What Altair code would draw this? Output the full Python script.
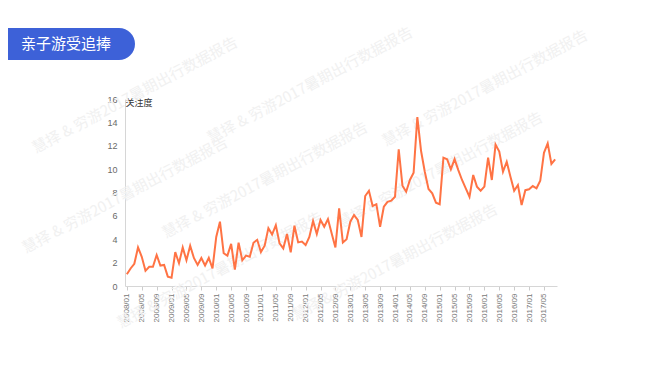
import altair as alt
import pandas as pd

years = list(range(2008, 2018))
values = [1.0, 1.5, 1.9, 3.3, 2.5, 1.3, 1.65, 1.65, 2.65, 1.75, 1.8, 0.8,
          0.7, 2.9, 1.95, 3.3, 2.2, 3.45, 2.4, 1.8, 2.4, 1.75, 2.4, 1.5,
          4.2, 5.5, 2.8, 2.6, 3.6, 1.4, 3.7, 2.2, 2.6, 2.5, 3.7, 3.95,
          2.9, 3.45, 4.95, 4.4, 5.2, 3.65, 3.22, 4.45, 2.88, 5.16, 3.73, 3.8,
          3.5, 4.2, 5.56, 4.45, 5.65, 5.07, 5.73, 4.5, 3.3, 6.64, 3.73, 4.0,
          5.5, 6.07, 5.65, 4.2, 7.7, 8.15, 6.84, 7.0, 5.07, 6.78, 7.2, 7.3,
          7.64, 11.7, 8.58, 8.07, 9.07, 9.7, 14.45, 11.55, 9.78, 8.3, 7.93, 7.13,
          7.0, 10.98, 10.84, 9.98, 10.86, 9.92, 9.07, 8.36, 7.64, 9.5, 8.5, 8.15,
          8.5, 10.98, 9.07, 12.1, 11.5, 9.78, 10.63, 9.35, 8.15, 8.64, 6.93, 8.2,
          8.27, 8.55, 8.36, 9.0, 11.4, 12.2, 10.44, 10.84]
months = [f"{y}/{m:02d}" for y in years for m in range(1, 13)][:len(values)]
tick_labels = months[::4]
y_ticks = [0, 2, 4, 6, 8, 10, 12, 14, 16]
title_text = "亲子游受追捧"
y_title = "关注度"
watermark_text = "慧择 & 穷游2017暑期出行数据报告"
# decorative watermark centres (page pixels)
watermark_centres = [(135, 95), (310, 85), (485, 88), (125, 195), (265, 180),
                     (440, 170), (220, 270), (395, 262)]

df = pd.DataFrame({"month": months, "value": values})

line = alt.Chart(df).mark_line(color="#ff7344", strokeWidth=2).encode(
    x=alt.X("month:O", scale=alt.Scale(type="point", padding=0.5),
            axis=alt.Axis(values=tick_labels, labelAngle=270, title=None,
                          labelFontSize=8, labelColor="#777", labelFont="Liberation Sans",
                          tickColor="#cccccc", tickSize=4, domainColor="#d6d6d6",
                          labelPadding=3, grid=False)),
    y=alt.Y("value:Q", scale=alt.Scale(domain=[0, 16], nice=False),
            axis=alt.Axis(values=y_ticks, ticks=False, grid=False, title=y_title,
                          titleAngle=0, titleX=0, titleY=3, titleAlign="left",
                          titleBaseline="middle", titleFontSize=9, titleFontWeight="normal",
                          titleColor="#333", titleFont="Noto Sans CJK SC",
                          labelFontSize=9, labelColor="#6a6a6a", labelFont="Liberation Sans",
                          labelPadding=8, domainColor="#d6d6d6")),
)

wm_df = pd.DataFrame({"t": [watermark_text]})
wm_layers = [
    alt.Chart(wm_df).mark_text(
        color="#f1f1f1", fontSize=15, font="Noto Sans CJK SC", angle=332,
        align="center", baseline="middle"
    ).encode(text="t:N", x=alt.value(cx - 125), y=alt.value(cy - 99))
    for cx, cy in watermark_centres
]

banner_df = pd.DataFrame({"t": [title_text]})
banner = alt.Chart(banner_df).mark_rect(
    color="#3d61d8", cornerRadiusTopRight=16, cornerRadiusBottomRight=16
).encode(x=alt.value(-117), x2=alt.value(10), y=alt.value(-71), y2=alt.value(-39))
banner_text = alt.Chart(banner_df).mark_text(
    color="white", fontSize=15, font="Noto Sans CJK SC", align="center", baseline="middle"
).encode(text="t:N", x=alt.value(-59), y=alt.value(-55))

chart = alt.layer(*wm_layers, line, banner, banner_text).properties(
    width=432, height=187,
    background="white",
    autosize=alt.AutoSizeParams(type="none"),
    padding={"left": 117, "top": 91, "right": 80, "bottom": 90},
).configure_view(strokeWidth=0)

chart.save("out.html", embed_options={"renderer": "svg", "actions": False})
